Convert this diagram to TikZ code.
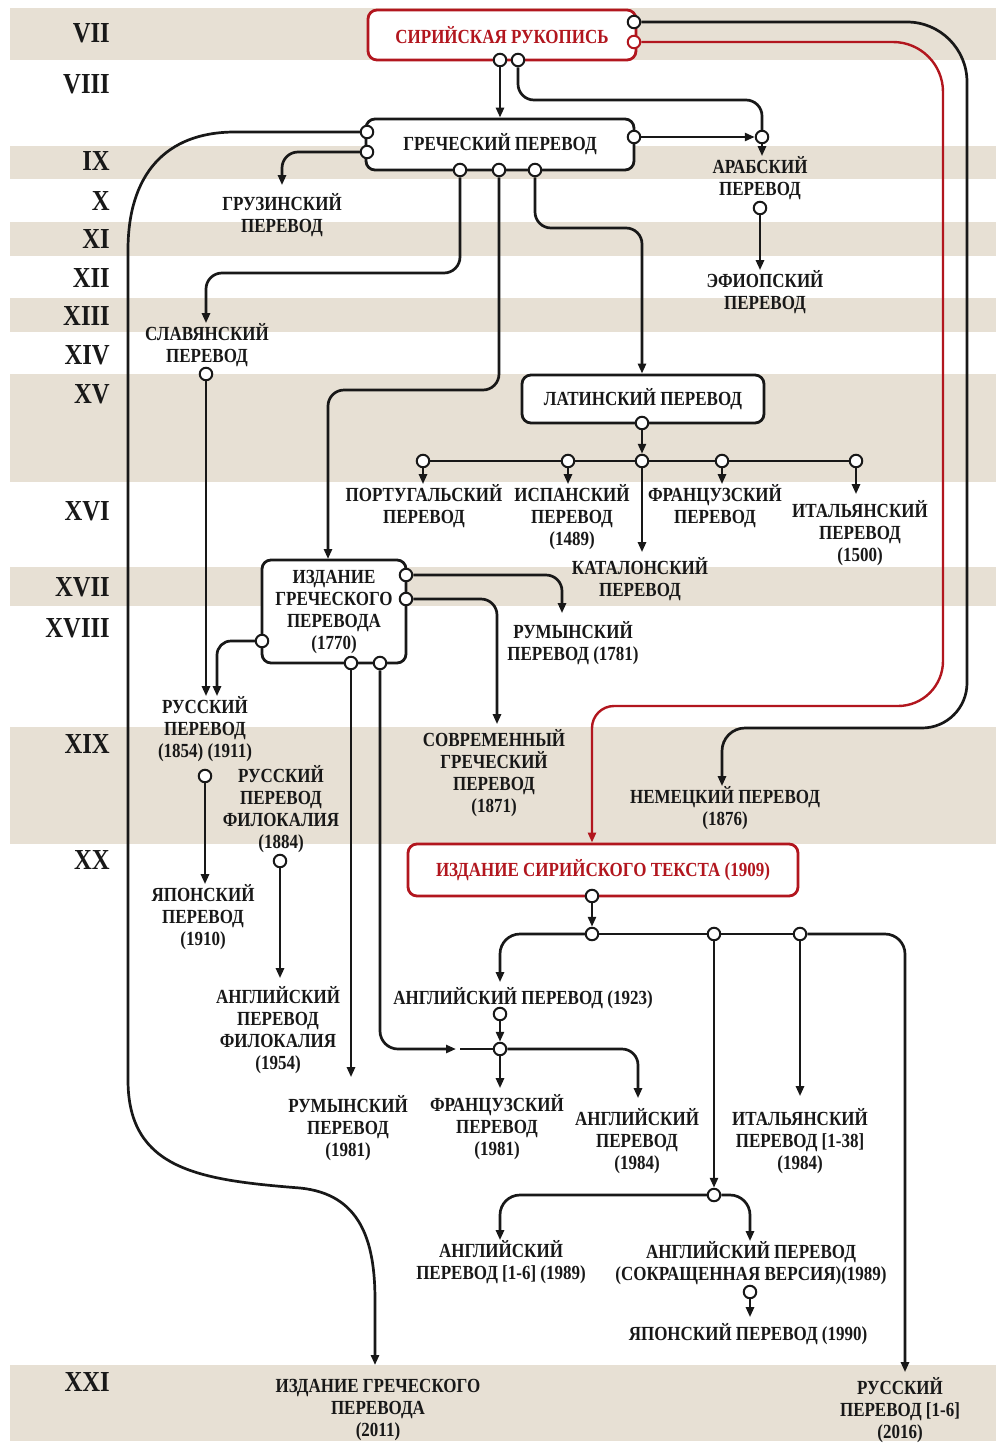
\documentclass[tikz,border=0pt]{standalone}
\usepackage{fontspec}
\setmainfont{Liberation Serif}[FakeStretch=0.85]
\usetikzlibrary{arrows.meta}
\definecolor{band}{RGB}{231,224,212}
\definecolor{dred}{RGB}{178,22,30}
\definecolor{ink}{RGB}{24,24,24}
\begin{document}
\begin{tikzpicture}[x=1pt,y=-1pt,
  conn/.style={line width=2.7pt, draw=ink},
  rconn/.style={line width=2.4pt, draw=dred},
  arr/.style={conn, -{Triangle[length=10pt,width=8pt]}},
  rarr/.style={rconn, -{Triangle[length=10pt,width=8pt]}},
  port/.style={circle, draw=ink, fill=white, line width=2pt, inner sep=0pt, minimum size=12.5pt},
  rport/.style={port, draw=dred},
  lbl/.style={font=\bfseries\fontsize{20}{22}\selectfont, text=ink, align=center, inner sep=0pt},
  box/.style={draw=ink, line width=2.8pt, rounded corners=9pt, fill=white, font=\bfseries\fontsize{20}{22}\selectfont, text=ink, align=center, inner sep=0pt},
  rbox/.style={box, draw=dred, text=dred},
  cent/.style={font=\bfseries\fontsize{29}{30}\selectfont, text=ink, anchor=east, inner sep=0pt},
]
\useasboundingbox (0,0) rectangle (996,1443);
\fill[white] (0,0) rectangle (996,1443);
% century bands
\fill[band] (10,8) rectangle (996,60);
\fill[band] (10,146) rectangle (996,179);
\fill[band] (10,222) rectangle (996,256);
\fill[band] (10,298) rectangle (996,332);
\fill[band] (10,374) rectangle (996,482);
\fill[band] (10,567) rectangle (996,606);
\fill[band] (10,727) rectangle (996,844);
\fill[band] (10,1365) rectangle (996,1441);
% centuries
\node[cent] (cVII) at (110,33) {VII};
\node[cent] (cVIII) at (110,84) {VIII};
\node[cent] (cIX) at (110,161) {IX};
\node[cent] (cX) at (110,201) {X};
\node[cent] (cXI) at (110,239) {XI};
\node[cent] (cXII) at (110,278) {XII};
\node[cent] (cXIII) at (110,316) {XIII};
\node[cent] (cXIV) at (110,355) {XIV};
\node[cent] (cXV) at (110,394) {XV};
\node[cent] (cXVI) at (110,511) {XVI};
\node[cent] (cXVII) at (110,587) {XVII};
\node[cent] (cXVIII) at (110,628) {XVIII};
\node[cent] (cXIX) at (110,744) {XIX};
\node[cent] (cXX) at (110,860) {XX};
\node[cent] (cXXI) at (110,1382) {XXI};

% boxes
\node[rbox, minimum width=268pt, minimum height=50pt] (syr) at (502,35) {СИРИЙСКАЯ РУКОПИСЬ};
\node[box, minimum width=268pt, minimum height=51pt] (gr) at (500,144.5) {ГРЕЧЕСКИЙ ПЕРЕВОД};
\node[box, minimum width=242pt, minimum height=48pt] (lat) at (643,399) {ЛАТИНСКИЙ ПЕРЕВОД};
\node[box, minimum width=144pt, minimum height=103pt] (ed) at (334,611.5) {ИЗДАНИЕ\\ГРЕЧЕСКОГО\\ПЕРЕВОДА\\(1770)};
\node[rbox, minimum width=390pt, minimum height=52pt] (syred) at (603,870) {ИЗДАНИЕ СИРИЙСКОГО ТЕКСТА (1909)};

% labels
\node[lbl] (ar) at (760,178) {АРАБСКИЙ\\ПЕРЕВОД};
\node[lbl] (eth) at (765,292) {ЭФИОПСКИЙ\\ПЕРЕВОД};
\node[lbl] (geo) at (282,215) {ГРУЗИНСКИЙ\\ПЕРЕВОД};
\node[lbl] (slav) at (207,345) {СЛАВЯНСКИЙ\\ПЕРЕВОД};
\node[lbl] (por) at (424,506) {ПОРТУГАЛЬСКИЙ\\ПЕРЕВОД};
\node[lbl] (spa) at (572,517) {ИСПАНСКИЙ\\ПЕРЕВОД\\(1489)};
\node[lbl] (fre) at (715,506) {ФРАНЦУЗСКИЙ\\ПЕРЕВОД};
\node[lbl] (ita) at (860,533) {ИТАЛЬЯНСКИЙ\\ПЕРЕВОД\\(1500)};
\node[lbl] (cat) at (640,579) {КАТАЛОНСКИЙ\\ПЕРЕВОД};
\node[lbl] (rom81) at (573,643) {РУМЫНСКИЙ\\ПЕРЕВОД (1781)};
\node[lbl] (rus) at (205,729) {РУССКИЙ\\ПЕРЕВОД\\(1854) (1911)};
\node[lbl] (mgr) at (494,773) {СОВРЕМЕННЫЙ\\ГРЕЧЕСКИЙ\\ПЕРЕВОД\\(1871)};
\node[lbl] (ger) at (725,808) {НЕМЕЦКИЙ ПЕРЕВОД\\(1876)};
\node[lbl] (rphil) at (281,809) {РУССКИЙ\\ПЕРЕВОД\\ФИЛОКАЛИЯ\\(1884)};
\node[lbl] (jap10) at (203,917) {ЯПОНСКИЙ\\ПЕРЕВОД\\(1910)};
\node[lbl] (e23) at (523,998) {АНГЛИЙСКИЙ ПЕРЕВОД (1923)};
\node[lbl] (ephil) at (278,1030) {АНГЛИЙСКИЙ\\ПЕРЕВОД\\ФИЛОКАЛИЯ\\(1954)};
\node[lbl] (rom1981) at (348,1128) {РУМЫНСКИЙ\\ПЕРЕВОД\\(1981)};
\node[lbl] (fr81) at (497,1127) {ФРАНЦУЗСКИЙ\\ПЕРЕВОД\\(1981)};
\node[lbl] (en84) at (637,1141) {АНГЛИЙСКИЙ\\ПЕРЕВОД\\(1984)};
\node[lbl] (it84) at (800,1141) {ИТАЛЬЯНСКИЙ\\ПЕРЕВОД [1-38]\\(1984)};
\node[lbl] (e89) at (501,1262) {АНГЛИЙСКИЙ\\ПЕРЕВОД [1-6] (1989)};
\node[lbl] (ab89) at (751,1263) {АНГЛИЙСКИЙ ПЕРЕВОД\\(СОКРАЩЕННАЯ ВЕРСИЯ)(1989)};
\node[lbl] (j90) at (748,1334) {ЯПОНСКИЙ ПЕРЕВОД (1990)};
\node[lbl] (ed11) at (378,1410) {ИЗДАНИЕ ГРЕЧЕСКОГО\\ПЕРЕВОДА\\(2011)};
\node[lbl] (rus16) at (900,1410) {РУССКИЙ\\ПЕРЕВОД [1-6]\\(2016)};

% ports
\node[port] (syrb1) at (500,60) {};
\node[port] (syrb2) at (518,60) {};
\node[port] (syrr1) at (634,22) {};
\node[rport] (syrr2) at (634,42) {};
\node[port] (grl1) at (367,132) {};
\node[port] (grl2) at (367,152) {};
\node[port] (grr) at (634,137) {};
\node[port] (grb1) at (460,170) {};
\node[port] (grb2) at (499,170) {};
\node[port] (grb3) at (535,170) {};
\node[port] (ar0) at (762,137) {};
\node[port] (ar1) at (760,208) {};
\node[port] (sl1) at (206,374) {};
\node[port] (latp) at (642,423) {};
\node[port] (jp1) at (423,461) {};
\node[port] (jp2) at (568,461) {};
\node[port] (jn) at (642,461) {};
\node[port] (jp4) at (722,461) {};
\node[port] (jp5) at (856,461) {};
\node[port] (edr1) at (406,575) {};
\node[port] (edr2) at (406,599) {};
\node[port] (edl) at (262,641) {};
\node[port] (edb1) at (351,663) {};
\node[port] (edb2) at (380,663) {};
\node[port] (ru1) at (205,776) {};
\node[port] (rp1) at (280,861) {};
\node[port] (sep) at (592,896) {};
\node[port] (sj1) at (592,934) {};
\node[port] (sj2) at (714,934) {};
\node[port] (sj3) at (800,934) {};
\node[port] (e1) at (500,1014) {};
\node[port] (je) at (500,1049) {};
\node[port] (jk) at (714,1195) {};
\node[port] (ab1) at (750,1292) {};
\coordinate (edin) at (328,559);
\coordinate (jx0) at (456,1049);
\coordinate (jx1) at (460,1049);

% connectors
\draw[arr] (syrb1) -- (syrb1 |- gr.north);
\draw[conn, rounded corners=16pt] (syrb2) -- (518,100) -- (762,100) -- (ar0);
\draw[arr] (grr) -- (ar0);
\draw[arr] (ar0) -- (ar0 |- ar.north);
\draw[arr] (ar1) -- (ar1 |- eth.north);
\draw[arr, rounded corners=16pt, shorten >=8pt] (grl2) -- (282,152) -- (geo.north);
\draw[arr, shorten >=14pt] (grl1) -- (235,132) .. controls (165,132) and (128,175) .. (128,250) -- (128,1080) .. controls (128,1170) and (200,1180) .. (300,1188) .. controls (360,1194) and (375,1240) .. (375,1300) -- (375,0 |- ed11.north);
\draw[arr, rounded corners=16pt] (grb1) -- (460,273) -- (206,273) -- (sl1 |- slav.north);
\draw[arr, rounded corners=16pt] (grb2) -- (499,390) -- (328,390) -- (edin);
\draw[arr, rounded corners=16pt] (grb3) -- (535,228) -- (642,228) -- (latp |- lat.north);
\draw[arr] (latp) -- (jn);
\draw[conn] (jp1) -- (jp2);
\draw[conn] (jp2) -- (jn);
\draw[conn] (jn) -- (jp4);
\draw[conn] (jp4) -- (jp5);
\draw[arr] (jp1) -- (jp1 |- por.north);
\draw[arr] (jp2) -- (jp2 |- spa.north);
\draw[arr] (jp4) -- (jp4 |- fre.north);
\draw[arr, shorten >=6pt] (jp5) -- (jp5 |- ita.north);
\draw[arr, shorten >=5pt] (jn) -- (jn |- cat.north);
\draw[arr, rounded corners=16pt, shorten >=8pt] (edr1) -- (562,575) -- (562,0 |- rom81.north);
\draw[arr, rounded corners=16pt, shorten >=5pt] (edr2) -- (497,599) -- (497,0 |- mgr.north);
\draw[arr, rounded corners=14pt] (edl) -- (217,641) -- (217,0 |- rus.north);
\draw[arr] (sl1) -- (sl1 |- rus.north);
\draw[arr, shorten >=18pt] (edb1) -- (edb1 |- rom1981.north);
\draw[arr, rounded corners=18pt] (edb2) -- (380,1049) -- (jx0);
\draw[conn] (jx1) -- (je);
\draw[arr] (ru1) -- (ru1 |- jap10.north);
\draw[arr, shorten >=8pt] (rp1) -- (rp1 |- ephil.north);
% long right lines
\draw[arr] (syrr1) -- (907,22) arc[start angle=-90, end angle=0, radius=60] -- (967,683) arc[start angle=0, end angle=90, radius=45] -- (745,728) arc[start angle=-90, end angle=-180, radius=23] -- (722,0 |- ger.north);
\draw[rarr] (syrr2) -- (893,42) arc[start angle=-90, end angle=0, radius=50] -- (943,661) arc[start angle=0, end angle=90, radius=45] -- (614,706) arc[start angle=-90, end angle=-180, radius=22] -- (sep |- syred.north);
% 20th century
\draw[arr] (sep) -- (sj1);
\draw[conn] (sj1) -- (sj2);
\draw[conn] (sj2) -- (sj3);
\draw[arr, shorten >=5pt] (sj1) -- (520,934) arc[start angle=-90, end angle=-180, radius=20] -- (e1 |- e23.north);
\draw[arr, shorten >=5pt] (sj3) -- (885,934) arc[start angle=-90, end angle=0, radius=20] -- (905,0 |- rus16.north);
\draw[arr] (sj2) -- (jk);
\draw[arr, shorten >=12pt] (sj3) -- (sj3 |- it84.north);
\draw[arr] (e1) -- (je);
\draw[arr, shorten >=6pt] (je) -- (je |- fr81.north);
\draw[arr, shorten >=10pt] (je) -- (622,1049) arc[start angle=-90, end angle=0, radius=16] -- (638,0 |- en84.north);
\draw[arr] (jk) -- (520,1195) arc[start angle=-90, end angle=-180, radius=20] -- (500,0 |- e89.north);
\draw[arr] (jk) -- (730,1195) arc[start angle=-90, end angle=0, radius=20] -- (ab1 |- ab89.north);
\draw[arr, shorten >=6pt] (ab1) -- (ab1 |- j90.north);
\end{tikzpicture}
\end{document}
